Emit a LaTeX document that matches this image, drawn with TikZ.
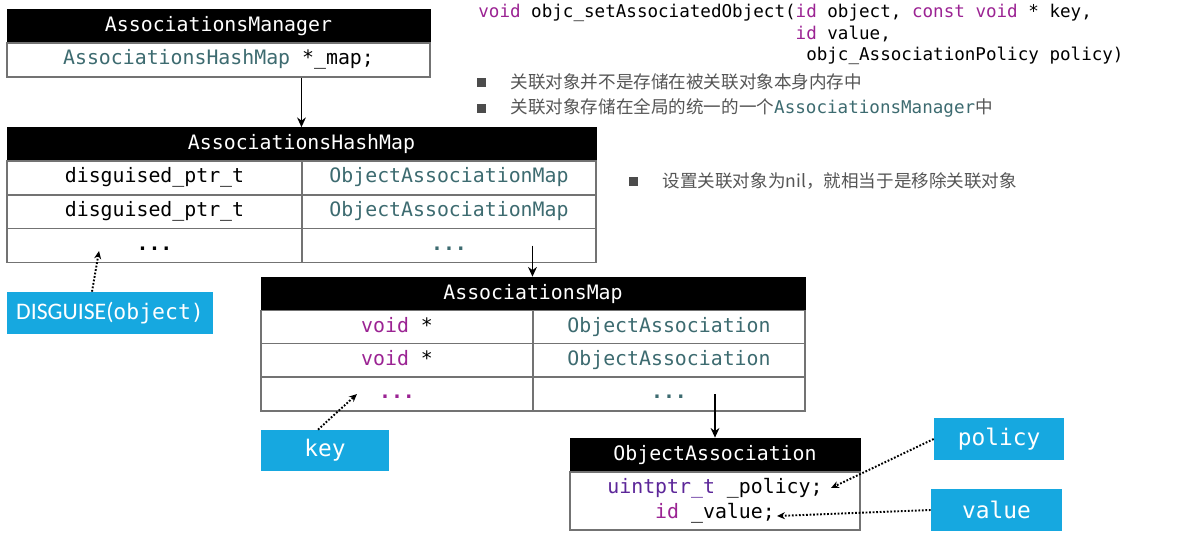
\documentclass[tikz,border=0pt]{standalone}
\usepackage{fontspec}
\usetikzlibrary{positioning,arrows.meta,calc}
\newfontfamily\codefont{DejaVu Sans Mono}
\newfontfamily\cjkfont{Noto Sans CJK SC}
\newfontfamily\capsfont{Carlito}
\definecolor{xteal}{HTML}{3D6B70}
\definecolor{xkw}{HTML}{9B2393}
\definecolor{xtype}{HTML}{5C2699}
\definecolor{tagblue}{HTML}{16A8E0}
\definecolor{notegray}{HTML}{555555}
\newcommand{\kw}[1]{\textcolor{xkw}{#1}}
\newcommand{\ty}[1]{\textcolor{xteal}{#1}}
\newcommand{\more}{\textbf{...}}
\newcommand{\px}{0.02cm}
\tikzset{
    hdr/.style={draw=black,fill=black,text=white,inner sep=0pt,minimum height=34*\px,
        font=\codefont\fontsize{11.3}{13}\selectfont},
    cell/.style={draw=black!55,line width=0.6pt,fill=white,inner sep=0pt,minimum height=34*\px,
        text height=8pt,text depth=2.5pt,font=\codefont\fontsize{11.3}{13}\selectfont},
    tag/.style={fill=tagblue,text=white,inner sep=0pt,minimum height=42*\px,
        font=\codefont\fontsize{13}{15}\selectfont},
    link/.style={-{Stealth[length=5.5pt,width=5pt]},line width=1pt},
    hint/.style={-{Stealth[length=4.5pt,width=4pt]},line width=1.1pt,dash pattern=on 1pt off 1pt},
    bul/.style={fill=black!70,minimum size=9*\px,inner sep=0pt},
    note/.style={font=\cjkfont\fontsize{10}{12}\selectfont,text=notegray,inner sep=0pt,anchor=west},
}

\begin{document}
\begin{tikzpicture}[x=\px,y=-\px]
    \useasboundingbox (0,0) rectangle (1200,534);

    % AssociationsManager
    \node[hdr,minimum width=423*\px] (mhdr) at (218.5,26.5) {AssociationsManager};
    \node[cell,minimum width=423*\px] (mbody) at (218.5,60) {\ty{AssociationsHashMap} *\_map;};

    % AssociationsHashMap
    \node[hdr,minimum width=589*\px] (hhdr) at (301.5,144.5) {AssociationsHashMap};
    \node[cell,minimum width=295*\px] (hl1) at (154.5,178) {disguised\_ptr\_t};
    \node[cell,minimum width=294*\px] (hr1) at (449,178) {\ty{ObjectAssociationMap}};
    \node[cell,minimum width=295*\px] (hl2) at (154.5,212) {disguised\_ptr\_t};
    \node[cell,minimum width=294*\px] (hr2) at (449,212) {\ty{ObjectAssociationMap}};
    \node[cell,minimum width=295*\px] (hl3) at (154.5,245.5) {\more};
    \node[cell,minimum width=294*\px] (hr3) at (449,245.5) {\ty{\more}};

    % AssociationsMap
    \node[hdr,minimum width=544*\px] (amhdr) at (533,294) {AssociationsMap};
    \node[cell,minimum width=272*\px] (aml1) at (397,327.5) {\kw{void} *};
    \node[cell,minimum width=272*\px] (amr1) at (669,327.5) {\ty{ObjectAssociation}};
    \node[cell,minimum width=272*\px] (aml2) at (397,360.5) {\kw{void} *};
    \node[cell,minimum width=272*\px] (amr2) at (669,360.5) {\ty{ObjectAssociation}};
    \node[cell,minimum width=272*\px] (aml3) at (397,394) {\kw{\more}};
    \node[cell,minimum width=272*\px] (amr3) at (669,394) {\ty{\more}};

    % ObjectAssociation
    \node[hdr,minimum width=290*\px] (oahdr) at (715,455) {ObjectAssociation};
    \node[cell,minimum width=290*\px,minimum height=58*\px,text height=,text depth=,align=center] (oabody) at (715,501)
        {\textcolor{xtype}{uintptr\_t} \_policy;\\[1pt] \kw{id} \_value;};

    % blue tags
    \node[tag,minimum width=206*\px] (dis) at (110,313)
        {{\capsfont\fontsize{13.5}{15}\selectfont DISGUISE(}{\fontsize{12.2}{15}\selectfont object)}};
    \node[tag,minimum width=128*\px,minimum height=41*\px] (keytag) at (325,450.5) {key};
    \node[tag,minimum width=130*\px] (poltag) at (999,439) {policy};
    \node[tag,minimum width=131*\px] (valtag) at (996.5,510) {value};

    % signature
    \node[anchor=north west,inner sep=0pt,align=left,font=\codefont\fontsize{10}{12.2}\selectfont] (sig) at (478,4)
        {\kw{void} objc\_setAssociatedObject(\kw{id} object, \kw{const void} * key,\\
         \hphantom{void objc\_setAssociatedObject(}\kw{id} value,\\
         \hphantom{void objc\_setAssociatedObject( }objc\_AssociationPolicy policy)};

    % notes
    \node[bul] (b1) at (481,82) {};
    \node[note,right=0.49cm of b1] (n1) {关联对象并不是存储在被关联对象本身内存中};
    \node[bul] (b2) at (481,108) {};
    \node[note,right=0.49cm of b2] (n2) {关联对象存储在全局的统一的一个{\codefont\ty{AssociationsManager}}中};
    \node[bul] (b3) at (633,181) {};
    \node[note,right=0.49cm of b3] (n3) {设置关联对象为nil，就相当于是移除关联对象};

    % connectors
    \draw[link] (mbody.south -| hr1.west) -- (hhdr.north -| hr1.west);
    \draw[link] (hr3.center -| amr1.west) -- (amhdr.north -| amr1.west);
    \draw[link] (amr3.center -| oahdr.north) -- (oahdr.north);

    \coordinate (disend) at (99,251);
    \coordinate (keyend) at (357,394);
    \coordinate (polend) at (831,488);
    \coordinate (valend) at (777,516);
    \draw[hint] ([xshift=-18*\px]dis.north) -- (disend);
    \draw[hint] ([xshift=-7*\px]keytag.north) -- (keyend);
    \draw[hint] (poltag.west) -- (polend);
    \draw[hint] (valtag.west) -- (valend);
\end{tikzpicture}
\end{document}
